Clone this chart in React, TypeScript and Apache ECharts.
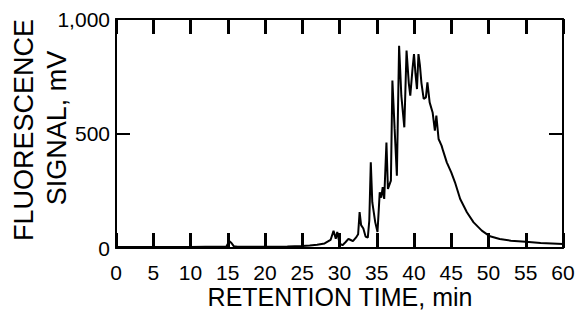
import React, { useEffect, useRef } from "react";
import * as echarts from "echarts";

const timeMin: number[] = [
  0, 2, 5, 8, 10, 12, 14, 14.8, 15.2, 15.5, 15.8, 16.3, 17, 19, 21, 23, 25, 26, 27, 28,
  28.8, 29.2, 29.5, 29.7, 30.0, 30.4, 30.8, 31.2, 31.5, 31.8, 32.2, 32.5, 32.7, 32.9, 33.2,
  33.5, 33.8, 34.0, 34.2, 34.4, 34.8, 35.1, 35.4, 35.6, 35.8, 36.0, 36.3, 36.5, 36.9, 37.1,
  37.4, 37.7, 38.0, 38.3, 38.7, 39.0, 39.3, 39.5, 39.8, 40.0, 40.2, 40.4, 40.6, 40.8, 41.0,
  41.3, 41.6, 41.8, 42.1, 42.5, 42.8, 43.0, 43.3, 43.7, 43.9, 44.4, 45.0, 45.5, 46.2, 47.1,
  48.0, 49.1, 50.2, 51.5, 53, 55, 57, 60,
];
const signalMv: number[] = [
  4, 4, 4, 4, 4, 5, 5, 6, 30, 22, 8, 5, 5, 5, 6, 7, 9, 11, 14, 20,
  35, 75, 40, 70, 20, 12, 25, 40, 35, 30, 45, 60, 157, 100, 85,
  50, 45, 120, 374, 200, 112, 70, 243, 220, 266, 214, 461, 258, 294, 731,
  520, 316, 883, 665, 527, 862, 720, 665, 782, 847, 760, 694, 847, 796, 720,
  651, 658, 723, 636, 592, 512, 578, 476, 447, 425, 374, 330, 287, 214, 156,
  112, 76, 51, 39, 32, 27, 22, 18,
];
const yTickValues: number[] = [0, 500, 1000];
const yTickLabels: string[] = ["0", "500", "1,000"];
const xTitle = "RETENTION TIME, min";
const yTitleLines: string[] = ["FLUORESCENCE", "SIGNAL, mV"];

const FONT = "'Liberation Sans', Arial, Helvetica, sans-serif";

const mkLine = () => ({ show: true, onZero: false, lineStyle: { color: "#000", width: 2 } });
const mkXTick = () => ({
  show: true,
  inside: true,
  length: 15,
  lineStyle: { color: "#000", width: 3 },
});
const mkYTick = () => ({
  show: true,
  inside: true,
  length: 14,
  lineStyle: { color: "#000", width: 2 },
});

export default function App() {
  const ref = useRef<HTMLDivElement>(null);
  useEffect(() => {
    if (!ref.current) return;
    const chart = echarts.init(ref.current, undefined, { renderer: "svg" });
    chart.setOption({
      animation: false,
      backgroundColor: "#fff",
      grid: { left: 116, right: 16, top: 19, bottom: 62, outerBoundsMode: "none" },
      xAxis: [
        {
          type: "value",
          min: 0,
          max: 60,
          interval: 5,
          position: "bottom",
          axisLine: mkLine(),
          axisTick: mkXTick(),
          splitLine: { show: false },
          axisLabel: { color: "#000", fontSize: 21, fontFamily: FONT, margin: 14 },
        },
        {
          type: "value",
          min: 0,
          max: 60,
          interval: 5,
          position: "top",
          axisLine: mkLine(),
          axisTick: mkXTick(),
          splitLine: { show: false },
          axisLabel: { show: false },
        },
      ],
      yAxis: [
        {
          type: "value",
          min: 0,
          max: 1000,
          interval: 500,
          position: "left",
          axisLine: mkLine(),
          axisTick: mkYTick(),
          splitLine: { show: false },
          axisLabel: {
            color: "#000",
            fontSize: 21,
            fontFamily: FONT,
            margin: 6,
            formatter: (v: number) => {
              const i = yTickValues.indexOf(v);
              return i >= 0 ? yTickLabels[i] : "";
            },
          },
        },
        {
          type: "value",
          min: 0,
          max: 1000,
          interval: 500,
          position: "right",
          axisLine: mkLine(),
          axisTick: mkYTick(),
          splitLine: { show: false },
          axisLabel: { show: false },
        },
      ],
      graphic: [
        {
          type: "text",
          x: 340,
          y: 297,
          style: {
            text: xTitle,
            fontSize: 25,
            fontFamily: FONT,
            fill: "#000",
            align: "center",
            verticalAlign: "middle",
          },
        },
        {
          type: "text",
          x: 24,
          y: 130,
          rotation: Math.PI / 2,
          style: {
            text: yTitleLines[0],
            fontSize: 27,
            fontFamily: FONT,
            fill: "#000",
            align: "center",
            verticalAlign: "middle",
          },
        },
        {
          type: "text",
          x: 57,
          y: 128,
          rotation: Math.PI / 2,
          style: {
            text: yTitleLines[1],
            fontSize: 27,
            fontFamily: FONT,
            fill: "#000",
            align: "center",
            verticalAlign: "middle",
          },
        },
      ],
      series: [
        {
          type: "line",
          xAxisIndex: 0,
          yAxisIndex: 0,
          data: timeMin.map((t, i) => [t, signalMv[i]]),
          showSymbol: false,
          smooth: false,
          lineStyle: { color: "#000", width: 2 },
        },
      ],
    });
    return () => chart.dispose();
  }, []);
  return (
    <div
      ref={ref}
      style={{ position: "fixed", left: 0, top: 0, width: 579, height: 310, overflow: "hidden" }}
    />
  );
}
